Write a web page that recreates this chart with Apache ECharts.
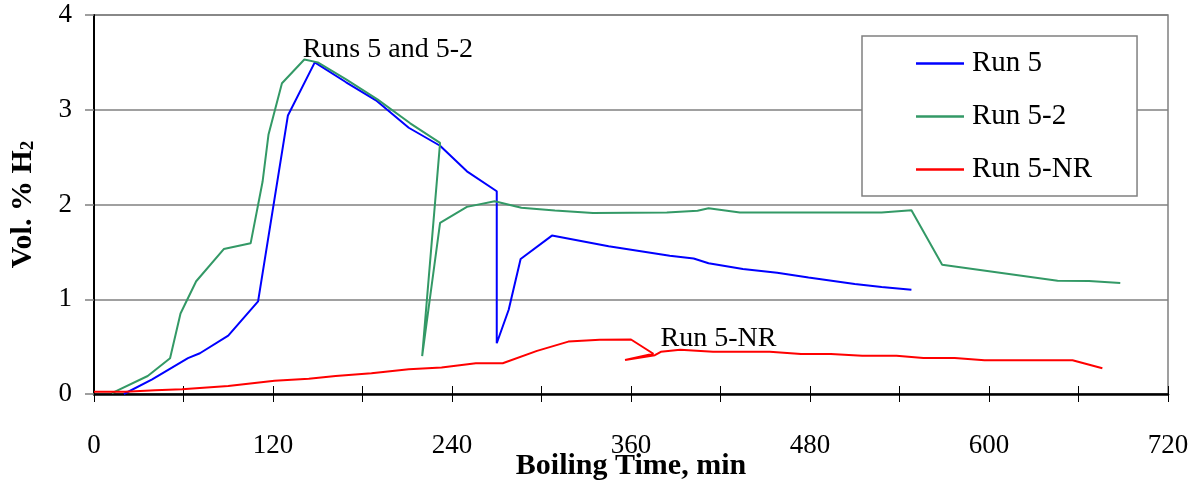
<!DOCTYPE html>
<html>
<head>
<meta charset="utf-8">
<script src="https://cdn.jsdelivr.net/npm/echarts@6/dist/echarts.min.js"></script>
<style>
html,body{margin:0;padding:0;background:#fff;}
#c{width:1198px;height:491px;}
</style>
</head>
<body>
<div id="c"></div>
<script>
const xTicks = [0, 120, 240, 360, 480, 600, 720];
const yTicks = [0, 1, 2, 3, 4];

const run5 = [
  [20, 0.0], [39, 0.155], [63, 0.378], [71, 0.43], [90, 0.617], [110, 0.977],
  [130, 2.94], [148, 3.50], [169, 3.29], [189, 3.10], [211, 2.81], [232, 2.62],
  [250, 2.35], [270, 2.14], [270, 0.536], [278, 0.889], [286, 1.425], [307, 1.672],
  [345, 1.56], [386, 1.46], [402, 1.43], [412, 1.38], [435, 1.32], [458, 1.28],
  [479, 1.23], [510, 1.16], [528, 1.13], [548, 1.10]
];
const run52 = [
  [12, 0.01], [36, 0.19], [51, 0.378], [58, 0.85], [68.5, 1.19], [87, 1.53],
  [105, 1.59], [113, 2.24], [117, 2.74], [126, 3.28], [141, 3.53], [150, 3.50],
  [169, 3.32], [190, 3.11], [212, 2.857], [232, 2.65], [220, 0.40], [232, 1.806],
  [250, 1.975], [268.6, 2.035], [286.5, 1.965], [309, 1.937], [334.5, 1.91],
  [384, 1.915], [404.6, 1.935], [412, 1.96], [433, 1.915], [528, 1.915],
  [548, 1.94], [568.6, 1.364], [646, 1.196], [667, 1.193], [688, 1.171]
];
const run5NR = [
  [0, 0.025], [21, 0.025], [41, 0.04], [59, 0.05], [90, 0.085], [121, 0.14],
  [144, 0.16], [162, 0.19], [186, 0.22], [211, 0.26], [233, 0.28], [256, 0.325],
  [274, 0.325], [297, 0.455], [318, 0.553], [339, 0.573], [360, 0.575],
  [375, 0.425], [356, 0.36], [376, 0.41], [380, 0.445], [393, 0.466],
  [415, 0.446], [453, 0.446], [474, 0.421], [494, 0.421], [515, 0.404],
  [538, 0.404], [556, 0.379], [577, 0.379], [597, 0.357], [656, 0.357], [676, 0.271]
];
const seriesNames = ['Run 5', 'Run 5-2', 'Run 5-NR'];
const seriesColors = ['#0000FF', '#339966', '#FF0000'];
const notes = [
  { text: 'Runs 5 and 5-2', x: 197, y: 3.63 },
  { text: 'Run 5-NR', x: 418.7, y: 0.58 }
];

const FONT = "'Liberation Serif', 'Times New Roman', serif";
const chart = echarts.init(document.getElementById('c'), null, { renderer: 'canvas' });

function mkSeries(name, data, color, extra) {
  return Object.assign({
    name: name, type: 'line', data: data, showSymbol: false, symbol: 'none',
    smooth: false, animation: false, silent: true,
    lineStyle: { color: color, width: 2 }, itemStyle: { color: color },
    xAxisIndex: 0, yAxisIndex: 0
  }, extra || {});
}

const option = {
  backgroundColor: '#ffffff',
  animation: false,
  textStyle: { fontFamily: FONT },
  grid: {
    left: 94, right: 30, top: 15, bottom: 97,
    containLabel: false, outerBoundsMode: 'none',
    show: true, borderColor: '#808080', borderWidth: 1.5, backgroundColor: 'transparent'
  },
  legend: {
    orient: 'vertical', left: 862, top: 36,
    padding: [13, 45, 12, 54], itemGap: 24,
    backgroundColor: '#ffffff', borderColor: '#808080', borderWidth: 1.5,
    icon: 'rect', itemWidth: 48, itemHeight: 2.5,
    textStyle: { fontFamily: FONT, fontSize: 29, color: '#000', padding: [0, 0, 0, 3] },
    data: seriesNames
  },
  xAxis: [{
    type: 'value', min: xTicks[0], max: xTicks[xTicks.length - 1], interval: 60,
    name: 'Boiling Time, min', nameLocation: 'middle', nameGap: 57, nameMoveOverlap: false,
    nameTextStyle: { fontFamily: FONT, fontSize: 30, fontWeight: 'bold', color: '#000' },
    axisLine: { show: true, onZero: false, lineStyle: { color: '#000', width: 2.5 } },
    axisTick: { show: true, inside: false, length: 8, lineStyle: { color: '#000', width: 1 } },
    axisLabel: {
      margin: 38, fontFamily: FONT, fontSize: 27, color: '#000',
      formatter: v => (xTicks.indexOf(v) >= 0 ? String(v) : '')
    },
    splitLine: { show: false }
  }, {
    type: 'value', min: xTicks[0], max: xTicks[xTicks.length - 1], interval: 60,
    position: 'bottom', gridIndex: 0,
    axisLine: { show: false },
    axisTick: { show: true, inside: true, length: 8, lineStyle: { color: '#000', width: 1 } },
    axisLabel: { show: false }, splitLine: { show: false }
  }],
  yAxis: {
    type: 'value', min: yTicks[0], max: yTicks[yTicks.length - 1], interval: 1,
    name: '{a|Vol. % H}{b|2}', nameLocation: 'middle', nameGap: 56, nameRotate: 90, nameMoveOverlap: false,
    nameTextStyle: {
      rich: {
        a: { fontFamily: FONT, fontSize: 30, fontWeight: 'bold', color: '#000', lineHeight: 36, verticalAlign: 'bottom' },
        b: { fontFamily: FONT, fontSize: 19, fontWeight: 'bold', color: '#000', lineHeight: 22, verticalAlign: 'bottom' }
      }
    },
    axisLine: { show: true, onZero: false, lineStyle: { color: '#000', width: 2 } },
    axisTick: { show: true, inside: false, length: 9, lineStyle: { color: '#808080', width: 1.5 } },
    axisLabel: { margin: 22, fontFamily: FONT, fontSize: 27, color: '#000' },
    splitLine: { show: true, lineStyle: { color: '#808080', width: 1.5 } }
  },
  series: [
    mkSeries(seriesNames[0], run5, seriesColors[0], {
      markPoint: {
        silent: true, symbol: 'circle', symbolSize: 1,
        itemStyle: { color: 'rgba(0,0,0,0)' },
        label: { show: true, position: 'inside', color: '#000', fontFamily: FONT, fontSize: 28, formatter: p => p.name },
        data: notes.map(n => ({ name: n.text, coord: [n.x, n.y] }))
      }
    }),
    mkSeries(seriesNames[1], run52, seriesColors[1]),
    mkSeries(seriesNames[2], run5NR, seriesColors[2])
  ]
};
chart.setOption(option);
</script>
</body>
</html>
